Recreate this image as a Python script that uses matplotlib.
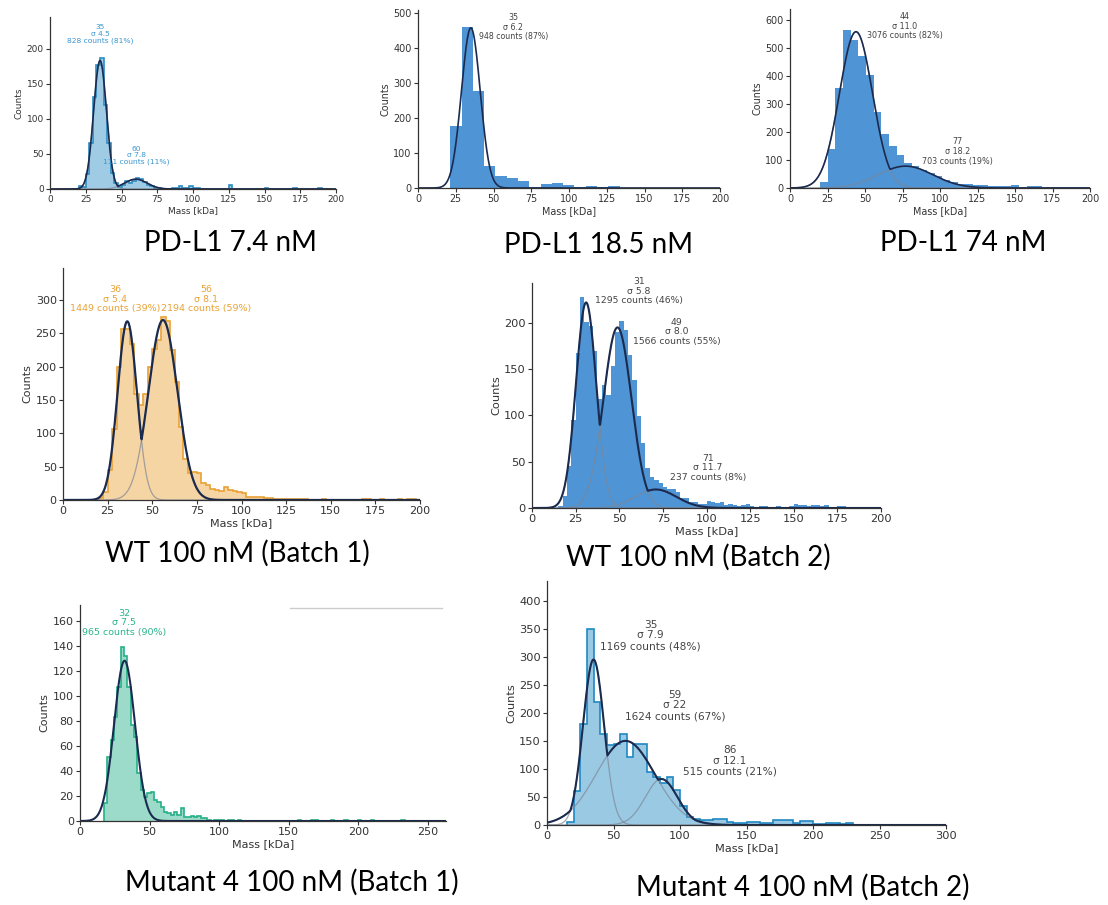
import numpy as np
import matplotlib.pyplot as plt
from matplotlib.lines import Line2D

W, H = 1108, 905
NAVY = '#1b2b50'
GREY = '#7d8696'
TXT = '#333333'

# ---- PD-L1 7.4 nM (bins 2.5 kDa from 20) ----
p1_counts = [4, 3, 22, 65, 131, 176, 186, 120, 65, 23, 8, 3, 5, 12, 8, 12, 15, 14,
             10, 6, 4, 2, 1, 0, 0, 0, 1, 1, 4, 1, 2, 4, 2, 1, 0, 0, 0, 0, 0, 0, 0, 0,
             5, 0, 0, 0, 0, 0, 0, 0, 0, 0, 2, 0, 0, 0, 0, 0, 0, 0, 2, 0, 0, 0, 0, 0,
             0, 2, 0, 0, 0]
p1_mu = [35, 60]
p1_sigma = [4.5, 7.8]
p1_sigma_txt = ['4.5', '7.8']
p1_peak = [183, 14]
p1_n = [828, 111]
p1_pct = [81, 11]

# ---- PD-L1 18.5 nM (bins 7.47 kDa from 21.4) ----
p2_counts = [176, 460, 278, 64, 35, 30, 19, 3, 12, 14, 10, 2, 5, 2, 6]
p2_mu = [35]
p2_sigma = [6.2]
p2_sigma_txt = ['6.2']
p2_peak = [458]
p2_n = [948]
p2_pct = [87]

# ---- PD-L1 74 nM (bins 5.1 kDa from 20) ----
p3_counts = [20, 139, 356, 564, 528, 469, 404, 271, 194, 151, 116, 89, 77, 65, 53,
             42, 30, 20, 15, 14, 12, 11, 8, 6, 6, 9, 5, 8, 8, 5, 5, 4, 3, 2, 2]
p3_mu = [44, 77]
p3_sigma = [11.0, 18.2]
p3_sigma_txt = ['11.0', '18.2']
p3_peak = [557, 78]
p3_n = [3076, 703]
p3_pct = [82, 19]

# ---- WT 100 nM (Batch 1) (bins 2.5 kDa from 20) ----
p4_counts = [3, 12, 45, 106, 200, 257, 256, 234, 159, 142, 159, 200, 227, 240, 275,
             268, 225, 177, 110, 62, 40, 42, 41, 25, 22, 17, 15, 13, 19, 15, 14, 12,
             11, 5, 5, 5, 4, 3, 3, 2, 2, 2, 1, 1, 2, 2, 2, 0, 0, 0, 1, 0, 0, 0, 0, 0,
             0, 0, 0, 1, 1, 0, 0, 2, 0, 0, 0, 2, 0, 2, 2]
p4_mu = [36, 56]
p4_sigma = [5.4, 8.1]
p4_sigma_txt = ['5.4', '8.1']
p4_peak = [268, 270]
p4_n = [1449, 2194]
p4_pct = [39, 59]

# ---- WT 100 nM (Batch 2) (bins 2.5 kDa from 15) ----
p5_counts = [2, 13, 45, 95, 167, 228, 201, 197, 170, 118, 133, 122, 153, 190, 202,
             192, 165, 138, 99, 70, 43, 34, 30, 27, 23, 21, 20, 17, 11, 11, 7, 7, 4,
             4, 8, 7, 5, 6, 3, 4, 3, 2, 3, 4, 2, 1, 2, 2, 1, 1, 2, 1, 1, 2, 4, 3, 3,
             2, 3, 3, 2, 3, 1, 1, 2, 2, 0, 1, 1, 1, 1, 1, 1, 1]
p5_mu = [31, 49, 71]
p5_sigma = [5.8, 8.0, 11.7]
p5_sigma_txt = ['5.8', '8.0', '11.7']
p5_peak = [222, 195, 20]
p5_n = [1295, 1566, 237]
p5_pct = [46, 55, 8]

# ---- Mutant 4 100 nM (Batch 1) (bins 2.4 kDa from 17.2) ----
p6_counts = [14, 51, 65, 83, 107, 139, 132, 107, 77, 67, 38, 25, 19, 22, 23, 17, 15,
             11, 7, 6, 5, 7, 5, 10, 3, 3, 4, 3, 4, 2, 2, 1, 0, 1, 1, 1, 0, 1, 1, 0,
             1, 0, 0, 0, 0, 0, 0, 0, 0, 0, 0, 0, 0, 0, 0, 0, 0, 0, 1, 0, 0, 0, 1, 1,
             0, 0, 0, 0, 1, 0, 0, 0, 1, 0, 0, 0, 1, 0, 0, 0, 1, 0, 0, 0, 0, 0, 0, 0,
             0, 1]
p6_mu = [32]
p6_sigma = [7.5]
p6_sigma_txt = ['7.5']
p6_peak = [128]
p6_n = [965]
p6_pct = [90]

# ---- Mutant 4 100 nM (Batch 2) (bins 5 kDa from 15) ----
p7_counts = [5, 60, 180, 349, 219, 163, 142, 145, 163, 121, 145, 145, 95, 86, 74, 86,
             62, 33, 15, 10, 9, 9, 11, 11, 5, 3, 4, 6, 5, 4, 3, 9, 9, 9, 4, 8, 8, 2,
             2, 4, 4, 1, 3]
p7_mu = [35, 59, 86]
p7_sigma = [7.9, 22, 12.1]
p7_sigma_txt = ['7.9', '22', '12.1']
p7_peak = [295, 150, 82]
p7_n = [1169, 1624, 515]
p7_pct = [48, 67, 21]

fig = plt.figure(figsize=(W / 100, H / 100), dpi=100)
fig.patch.set_facecolor('white')


def add_panel(l, r, t, b):
    return fig.add_axes([l / W, 1 - b / H, (r - l) / W, (b - t) / H])


def gauss(x, mu, sig, peak):
    return peak * np.exp(-(x - mu) ** 2 / (2 * sig ** 2))


def draw(ax, counts, start, width, mu, sig, sig_txt, peak, n, pct, ann_xy,
         xlim, ylim, xticks, yticks, fs, afs, color, acolor, step, lw=1.3):
    edges = start + width * np.arange(len(counts) + 1)
    if step:
        ax.stairs(counts, edges, fill=True, color=color, alpha=0.45, lw=0)
        ax.stairs(counts, edges, color=color, lw=1.2)
    else:
        ax.stairs(counts, edges, fill=True, color=color, lw=0)
    x = np.linspace(xlim[0], xlim[1], 800)
    comps = [gauss(x, m, s, p) for m, s, p in zip(mu, sig, peak)]
    if len(comps) > 1:
        for c in comps:
            ax.plot(x, c, color=GREY, lw=0.9, alpha=0.7)
    ax.plot(x, np.max(comps, axis=0), color=NAVY, lw=lw)
    for i in range(len(mu)):
        ax.text(ann_xy[i][0], ann_xy[i][1],
                f"{mu[i]}\nσ {sig_txt[i]}\n{n[i]} counts ({pct[i]}%)",
                ha='center', va='bottom', fontsize=afs, color=acolor,
                linespacing=1.1)
    ax.set_xlim(*xlim)
    ax.set_ylim(*ylim)
    ax.set_xticks(xticks)
    ax.set_yticks(yticks)
    for s in ['top', 'right']:
        ax.spines[s].set_visible(False)
    for s in ['left', 'bottom']:
        ax.spines[s].set_color(TXT)
        ax.spines[s].set_linewidth(0.9)
    ax.tick_params(labelsize=fs, length=3, width=0.8, colors=TXT, pad=1.5)
    ax.set_xlabel('Mass [kDa]', fontsize=fs, color=TXT, labelpad=1)
    ax.set_ylabel('Counts', fontsize=fs, color=TXT, labelpad=2)
    ax.patch.set_alpha(0)


def caption(x, y, s):
    fig.text(x / W, 1 - y / H, s, ha='center', va='center', fontsize=20,
             family='Lato', color='black')


ax1 = add_panel(50, 336, 17, 189)
draw(ax1, p1_counts, 20, 2.5, p1_mu, p1_sigma, p1_sigma_txt, p1_peak, p1_n, p1_pct,
     [(35, 207), (60.5, 34)], (0, 200), (0, 245), range(0, 201, 25),
     range(0, 201, 50), 6.5, 5.4, '#2b8cc4', '#3a96d0', True, lw=1.2)
caption(230, 243, 'PD-L1 7.4 nM')

ax2 = add_panel(418, 720, 10, 188)
draw(ax2, p2_counts, 21.4, 7.47, p2_mu, p2_sigma, p2_sigma_txt, p2_peak, p2_n, p2_pct,
     [(63, 419)], (0, 200), (0, 509), range(0, 201, 25),
     range(0, 501, 100), 6.9, 5.7, '#4f94d4', '#444444', False, lw=1.2)
caption(599, 245, 'PD-L1 18.5 nM')

ax3 = add_panel(790, 1090, 9, 188)
draw(ax3, p3_counts, 20, 5.1, p3_mu, p3_sigma, p3_sigma_txt, p3_peak, p3_n, p3_pct,
     [(76.7, 526), (111.8, 80)], (0, 200), (0, 638), range(0, 201, 25),
     range(0, 601, 100), 6.9, 5.75, '#4f94d4', '#444444', False, lw=1.2)
caption(963, 243, 'PD-L1 74 nM')

ax4 = add_panel(63, 420, 268, 500)
draw(ax4, p4_counts, 20, 2.5, p4_mu, p4_sigma, p4_sigma_txt, p4_peak, p4_n, p4_pct,
     [(29.3, 280), (80.2, 280)], (0, 200), (0, 348), range(0, 201, 25),
     range(0, 301, 50), 8, 6.8, '#e9a235', '#e9a235', True, lw=1.6)
caption(237, 553, 'WT 100 nM (Batch 1)')

ax5 = add_panel(532, 881, 283, 508)
draw(ax5, p5_counts, 15, 2.5, p5_mu, p5_sigma, p5_sigma_txt, p5_peak, p5_n, p5_pct,
     [(61.4, 219), (82.9, 175), (100.7, 28)], (0, 200), (0, 243), range(0, 201, 25),
     range(0, 201, 50), 8.2, 6.7, '#4f94d4', '#444444', False, lw=1.5)
caption(698, 557, 'WT 100 nM (Batch 2)')

ax6 = add_panel(80, 446, 605, 821)
draw(ax6, p6_counts, 17.2, 2.4, p6_mu, p6_sigma, p6_sigma_txt, p6_peak, p6_n, p6_pct,
     [(31.8, 147)], (0, 263), (0, 172.5), range(0, 251, 50),
     range(0, 161, 20), 8, 6.8, '#25b088', '#2bb58c', True, lw=1.5)
fig.add_artist(Line2D([290 / W, 442 / W], [1 - 608 / H, 1 - 608 / H],
                      color='#cccccc', lw=1))
caption(292, 882, 'Mutant 4 100 nM (Batch 1)')

ax7 = add_panel(547, 946, 581, 825)
draw(ax7, p7_counts, 15, 5, p7_mu, p7_sigma, p7_sigma_txt, p7_peak, p7_n, p7_pct,
     [(78, 310), (96.3, 185), (137.5, 86)], (0, 300), (0, 435), range(0, 301, 50),
     range(0, 401, 50), 8.2, 7.6, '#1f88c2', '#444444', True, lw=1.5)
caption(803, 887, 'Mutant 4 100 nM (Batch 2)')

fig.savefig('out.png', dpi=100, facecolor='white')
